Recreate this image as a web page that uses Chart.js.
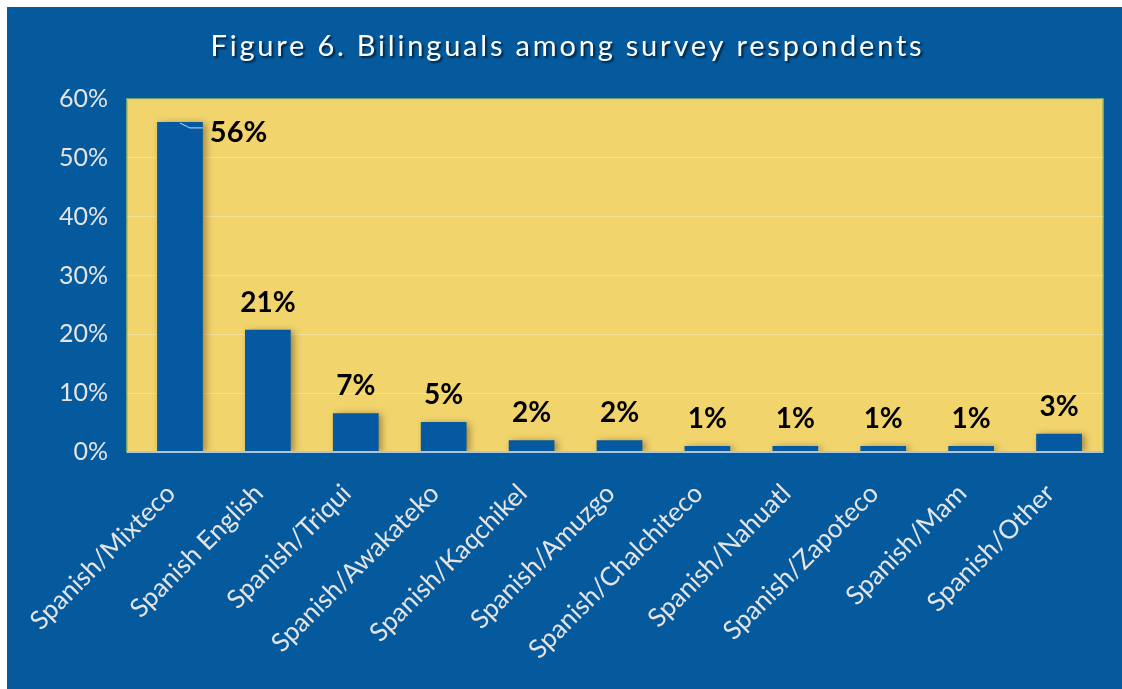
<!DOCTYPE html>
<html>
<head>
<meta charset="utf-8">
<script src="https://cdn.jsdelivr.net/npm/chart.js@4.4.1/dist/chart.umd.min.js"></script>
<style>
  html, body { margin: 0; padding: 0; background: #ffffff; }
  #panel { position: absolute; left: 7px; top: 7px; width: 1115px; height: 682px; background: #055a9e; }
</style>
</head>
<body>
<div id="panel"><canvas id="chart"></canvas></div>
<script>
const titleText = 'Figure 6. Bilinguals among survey respondents';
const categories = ['Spanish/Mixteco', 'Spanish English', 'Spanish/Triqui', 'Spanish/Awakateko',
  'Spanish/Kaqchikel', 'Spanish/Amuzgo', 'Spanish/Chalchiteco', 'Spanish/Nahuatl',
  'Spanish/Zapoteco', 'Spanish/Mam', 'Spanish/Other'];
const shares = [56.1, 20.8, 6.6, 5.1, 2.0, 2.0, 1.0, 1.0, 1.0, 1.0, 3.1];
const shareLabels = ['56%', '21%', '7%', '5%', '2%', '2%', '1%', '1%', '1%', '1%', '3%'];
const yTicks = [0, 10, 20, 30, 40, 50, 60];

const YELLOW = '#f2d46d';
const INSET = 9; // yellow area reaches a little left of the first category

// yellow plot background + border
const plotBg = {
  id: 'plotBg',
  beforeDraw(chart) {
    const { ctx, chartArea: a } = chart;
    const left = a.left - INSET;
    ctx.save();
    ctx.fillStyle = YELLOW;
    ctx.fillRect(left, a.top, a.right - left, a.bottom - a.top);
    ctx.strokeStyle = '#9dbb63';
    ctx.lineWidth = 1.5;
    ctx.strokeRect(left, a.top, a.right - left, a.bottom - a.top);
    ctx.restore();
  }
};

// soft shadow on bars
const barShadow = {
  id: 'barShadow',
  beforeDatasetsDraw(chart) {
    const ctx = chart.ctx;
    ctx.save();
    ctx.shadowColor = 'rgba(60,40,0,0.45)';
    ctx.shadowBlur = 7;
    ctx.shadowOffsetX = 3;
    ctx.shadowOffsetY = 1;
  },
  afterDatasetsDraw(chart) {
    chart.ctx.restore();
  }
};

// value labels and title
const labelsAndTitle = {
  id: 'labelsAndTitle',
  afterDatasetsDraw(chart) {
    const ctx = chart.ctx;
    const a = chart.chartArea;
    const meta = chart.getDatasetMeta(0);

    // bottom axis line across the whole yellow area
    ctx.save();
    ctx.strokeStyle = '#a9c6e0';
    ctx.lineWidth = 2;
    ctx.beginPath();
    ctx.moveTo(a.left - INSET, a.bottom);
    ctx.lineTo(a.right, a.bottom);
    ctx.stroke();
    ctx.restore();

    ctx.save();
    ctx.fillStyle = '#000000';
    ctx.textBaseline = 'alphabetic';
    meta.data.forEach((bar, i) => {
      if (i === 0) {
        // first label sits beside the bar with a small leader line
        ctx.strokeStyle = '#9cc3e0';
        ctx.lineWidth = 1.2;
        ctx.beginPath();
        ctx.moveTo(bar.x, bar.y + 1);
        ctx.lineTo(bar.x + 10, bar.y + 6);
        ctx.lineTo(bar.x + bar.width / 2, bar.y + 6);
        ctx.stroke();
        ctx.font = 'bold 29px Lato, "Liberation Sans", sans-serif';
        ctx.textAlign = 'left';
        ctx.fillText(shareLabels[i], bar.x + bar.width / 2 + 7, bar.y + 20);
      } else {
        ctx.font = 'bold 28px Lato, "Liberation Sans", sans-serif';
        ctx.textAlign = 'center';
        ctx.fillText(shareLabels[i], bar.x, bar.y - 18);
      }
    });
    ctx.restore();

    ctx.save();
    ctx.font = '29px Lato, "Open Sans", sans-serif';
    ctx.letterSpacing = '2.8px';
    ctx.fillStyle = '#ffffff';
    ctx.textAlign = 'center';
    ctx.textBaseline = 'middle';
    ctx.shadowColor = 'rgba(0,0,0,0.6)';
    ctx.shadowOffsetX = 2;
    ctx.shadowOffsetY = 2;
    ctx.shadowBlur = 2;
    ctx.fillText(titleText, chart.width / 2 + 3, 40);
    ctx.restore();
  }
};

new Chart(document.getElementById('chart'), {
  type: 'bar',
  data: {
    labels: categories,
    datasets: [{
      data: shares,
      backgroundColor: '#0559a0',
      borderWidth: 0,
      categoryPercentage: 1,
      barPercentage: 0.52
    }]
  },
  options: {
    responsive: true,
    maintainAspectRatio: false,
    animation: false,
    layout: { padding: { top: 92, right: 19, left: 0, bottom: 0 } },
    plugins: { legend: { display: false }, tooltip: { enabled: false }, title: { display: false } },
    scales: {
      x: {
        afterFit: (s) => { s.height = 237; },
        grid: { display: false },
        border: { display: false },
        ticks: {
          color: '#e4e4e4',
          font: { family: 'Lato, "Open Sans", sans-serif', size: 26 },
          minRotation: 45,
          maxRotation: 45,
          padding: 18,
          labelOffset: -9,
          autoSkip: false
        }
      },
      y: {
        min: 0,
        max: 60,
        afterFit: (s) => { s.width = 129; },
        afterBuildTicks: (s) => { s.ticks = yTicks.map(v => ({ value: v })); },
        grid: { color: 'rgba(255,255,255,0.3)', lineWidth: 1, drawTicks: true, tickLength: INSET },
        border: { display: false },
        ticks: {
          color: '#e4e4e4',
          font: { family: 'Lato, "Open Sans", sans-serif', size: 25 },
          padding: 19,
          callback: (v) => v + '%'
        }
      }
    }
  },
  plugins: [plotBg, barShadow, labelsAndTitle]
});
</script>
</body>
</html>
